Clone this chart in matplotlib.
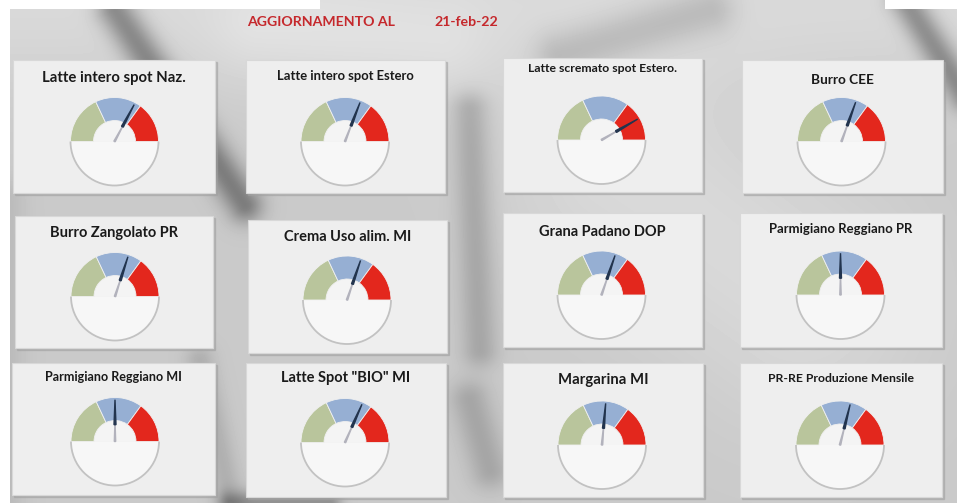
import matplotlib
matplotlib.use("Agg")
import matplotlib.pyplot as plt
from matplotlib.patches import Rectangle, Wedge, Arc, Polygon
import numpy as np

# --- data ---
header = "AGGIORNAMENTO AL"
update_date = "21-feb-22"
titles = ["Latte intero spot Naz.", "Latte intero spot Estero",
          "Latte scremato spot Estero.", "Burro CEE",
          "Burro Zangolato PR", "Crema Uso alim. MI",
          "Grana Padano DOP", "Parmigiano Reggiano PR",
          "Parmigiano Reggiano MI", "Latte Spot \"BIO\" MI",
          "Margarina MI", "PR-RE Produzione Mensile"]
# needle position on a 0..100 scale (0 = left end, 100 = right end)
needle = [65.6, 61.7, 83.3, 61.0, 60.0, 60.5, 60.5, 50.0, 50.0, 63.3, 52.8, 57.8]
band_edges = [0, 36, 70, 100]
band_colors = ["#b9c59c", "#96afd3", "#e3271d"]

# --- layout (pixels) ---
panels = [(13, 60, 202, 133), (246, 60, 199, 133), (503, 58, 199, 134), (742, 60, 201, 133),
          (15, 216, 198, 132), (248, 220, 199, 133), (503, 213, 199, 134), (740, 213, 202, 134),
          (12, 363, 203, 132), (246, 363, 200, 134), (503, 363, 200, 134), (740, 363, 202, 134)]
title_y = [78, 76, 68, 80, 233, 237, 232, 229, 377, 378, 380, 378]
title_w = [143, 137, 150, 63, 128, 128, 127, 143, 137, 130, 90, 147]
centers = [(114.5, 141.5), (345, 141.5), (601.5, 140), (841.5, 141.5),
           (115, 296.5), (347, 300), (601.5, 295), (840.5, 295),
           (115, 441.5), (345, 442.5), (602, 445), (840, 445)]
R_out, R_in = 44, 21

W, H = 965, 503
fig = plt.figure(figsize=(W / 100, H / 100), dpi=100)
ax = fig.add_axes([0, 0, 1, 1])
ax.set_xlim(0, W)
ax.set_ylim(H, 0)
ax.axis("off")
fig.patch.set_facecolor("white")

# soft grey background photo (rough approximation)
yy, xx = np.mgrid[0:H, 0:W] + 0.5


def stroke(x1, y1, x2, y2, w):
    dx, dy = x2 - x1, y2 - y1
    t = np.clip(((xx - x1) * dx + (yy - y1) * dy) / (dx * dx + dy * dy), 0, 1)
    d = np.hypot(xx - (x1 + t * dx), yy - (y1 + t * dy))
    return np.exp(-(d / w) ** 2)


bg = np.full((H, W), 0.79)
bg += 0.06 * np.exp(-(yy / 90) ** 2)
bg += 0.06 * stroke(620, 170, 800, 300, 120)
bg += 0.04 * stroke(260, 30, 440, 50, 50)
bg -= 0.30 * stroke(115, 10, 245, 205, 18)
bg -= 0.28 * stroke(905, 0, 965, 95, 16)
bg -= 0.14 * stroke(470, 110, 480, 350, 18)
bg -= 0.12 * stroke(560, 55, 710, 10, 25)
bg -= 0.10 * stroke(200, 360, 230, 500, 15)
bg -= 0.22 * stroke(230, 503, 330, 503, 12)
bg -= 0.14 * stroke(470, 400, 490, 470, 20)
bg -= 0.06 * stroke(5, 200, 5, 500, 20)
mask = np.zeros((H, W), bool)
mask[9:, 10:957] = True
mask[:9, 320:885] = True
img = np.where(mask, bg, 1.0)
ax.imshow(img, cmap="gray", vmin=0, vmax=1, extent=(0, W, H, 0), zorder=0, interpolation="bilinear")

red_txt = "#c5282c"
ax.text(247, 22, header, color=red_txt, fontsize=10.2, fontweight="bold",
        family=["Lato", "DejaVu Sans"], va="center", ha="left")
ax.text(434, 22, update_date, color=red_txt, fontsize=10.2, fontweight="bold",
        family=["Lato", "DejaVu Sans"], va="center", ha="left")

renderer = fig.canvas.get_renderer()


def vis(a1, a2):
    # visual angles (y axis inverted) -> data angles for Wedge
    return -a2, -a1


for i in range(12):
    x0, y0, pw, ph = panels[i]
    ax.add_patch(Rectangle((x0 + 1.5, y0 + 1.5), pw, ph, color="#a0a0a0", alpha=0.5, zorder=1))
    ax.add_patch(Rectangle((x0, y0), pw, ph, facecolor="#eeeeee", edgecolor="#d8d8d8", lw=0.8, zorder=2))

    t = ax.text(x0 + pw / 2, title_y[i], titles[i], fontsize=10, fontweight="bold",
                family=["Lato", "DejaVu Sans"], color="#1a1a1a", ha="center", va="center", zorder=5)
    w = t.get_window_extent(renderer).width
    t.set_fontsize(10 * title_w[i] / w)

    cx, cy = centers[i]
    # lower half + inner hole
    ax.add_patch(Wedge((cx, cy), R_out, *vis(180, 360), facecolor="#f7f7f7", edgecolor="none", zorder=3))
    ax.add_patch(Arc((cx, cy), 2 * R_out, 2 * R_out, theta1=0, theta2=180, color="#c2c2c2", lw=1.3, zorder=4))
    ax.add_patch(Wedge((cx, cy), R_in, *vis(0, 180), facecolor="#f4f4f4", edgecolor="none", zorder=3))
    # coloured bands
    for k in range(3):
        a2 = 180 - band_edges[k] * 1.8
        a1 = 180 - band_edges[k + 1] * 1.8
        ax.add_patch(Wedge((cx, cy), R_out, *vis(a1, a2), width=R_out - R_in,
                           facecolor=band_colors[k], edgecolor="#f0f0f0", lw=0.6, zorder=3))
    # needle
    ang = np.radians(180 - needle[i] * 1.8)
    ux, uy = np.cos(ang), -np.sin(ang)
    px, py = -uy, ux
    tip = R_out * 0.95
    ax.add_patch(Polygon([(cx + px * 0.7, cy + py * 0.7), (cx - px * 0.7, cy - py * 0.7),
                          (cx + ux * R_in, cy + uy * R_in)], color="#b2b2bc", zorder=6))
    ax.add_patch(Polygon([(cx + ux * R_in * 0.8 + px * 1.0, cy + uy * R_in * 0.8 + py * 1.0),
                          (cx + ux * R_in * 0.8 - px * 1.0, cy + uy * R_in * 0.8 - py * 1.0),
                          (cx + ux * tip, cy + uy * tip)], color="#22344e", zorder=6))

fig.savefig("out.png", dpi=100)
